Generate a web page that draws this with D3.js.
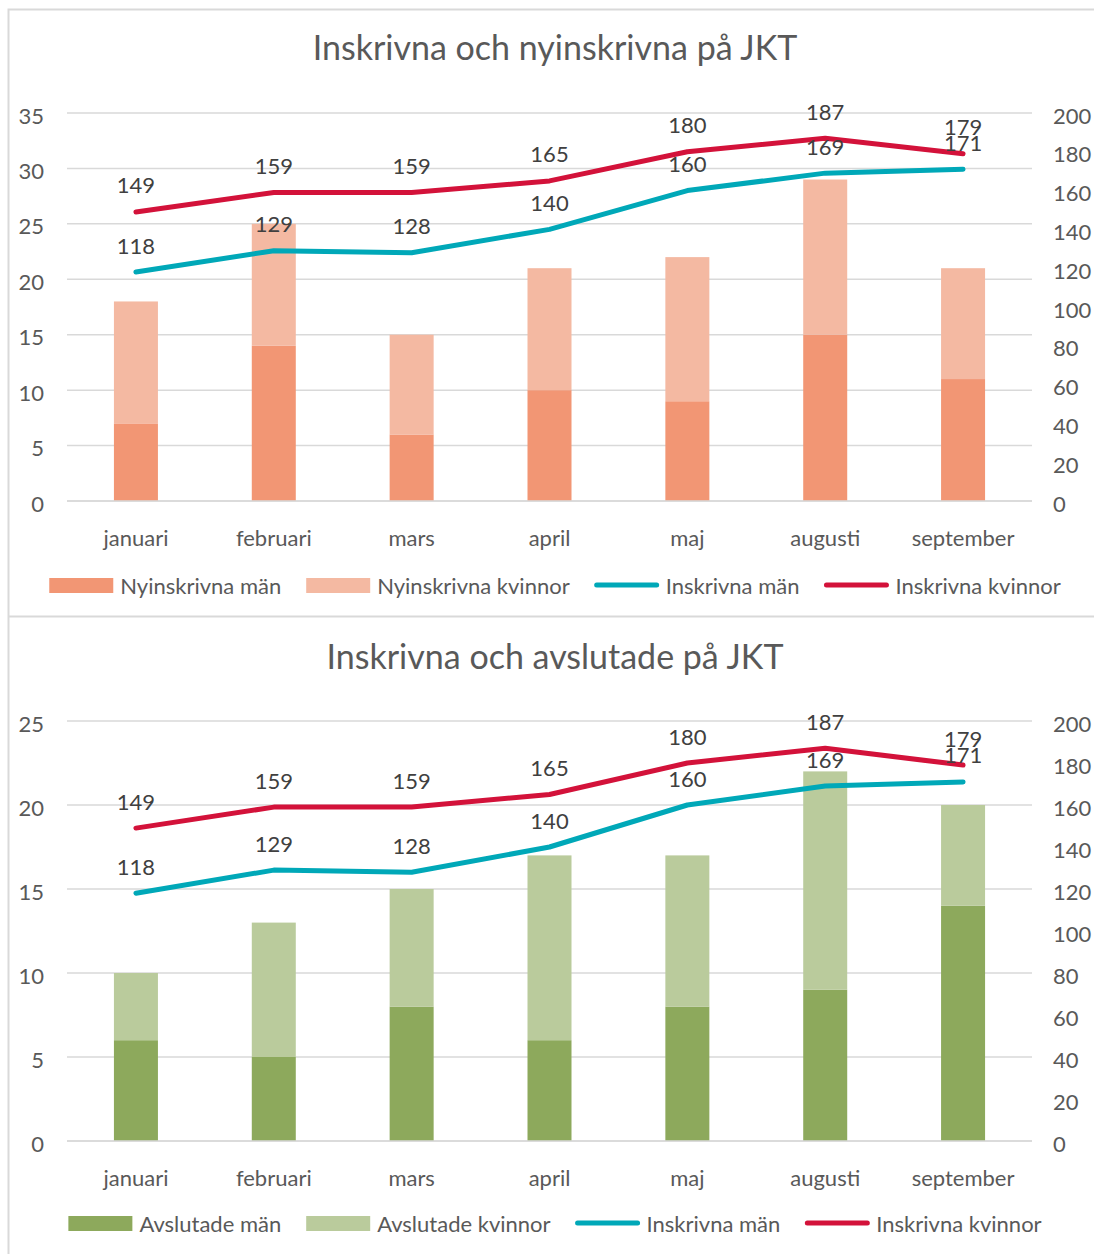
<!DOCTYPE html>
<html>
<head>
<meta charset="utf-8">
<script src="https://cdn.jsdelivr.net/npm/d3@7"></script>
<style>
  body { margin: 0; background: #fff; }
  svg text { font-family: Lato, "Open Sans", sans-serif; }
</style>
</head>
<body>
<div id="chart"></div>
<script>
const months = ['januari', 'februari', 'mars', 'april', 'maj', 'augusti', 'september'];

// inskrivna (right axis, both charts)
const inskrivnaMan = [118, 129, 128, 140, 160, 169, 171];
const inskrivnaKvinnor = [149, 159, 159, 165, 180, 187, 179];

// top chart bars
const nyinskrivnaMan = [7, 14, 6, 10, 9, 15, 11];
const nyinskrivnaKvinnor = [11, 11, 9, 11, 13, 14, 10];
const leftTicksTop = [0, 5, 10, 15, 20, 25, 30, 35];

// bottom chart bars
const avslutadeMan = [6, 5, 8, 6, 8, 9, 14];
const avslutadeKvinnor = [4, 8, 7, 11, 9, 13, 6];
const leftTicksBottom = [0, 5, 10, 15, 20, 25];

const rightTicks = [0, 20, 40, 60, 80, 100, 120, 140, 160, 180, 200];

const width = 1094;
const height = 1254;
const grey = '#d9d9d9';
const textCol = '#595959';

let svg = d3.select('#chart')
  .append('svg')
  .attr('width', width)
  .attr('height', height);

// frames
svg.append('path')
  .attr('d', 'M1094,9.5 H8.5 V1254 M8.5,616.5 H1094')
  .attr('fill', 'none')
  .attr('stroke', grey)
  .attr('stroke-width', 2);

function drawChart(opt) {
  let g = svg.append('g');

  let x = d3.scaleBand().domain(months).range([67, 1032]).paddingInner(0).paddingOuter(0);
  let y = d3.scaleLinear().domain([0, opt.leftMax]).range([opt.y0, opt.y1]);
  let y2 = d3.scaleLinear().domain([0, 200]).range([opt.y0, opt.y1]);

  g.append('text')
    .attr('x', 555).attr('y', opt.titleY)
    .attr('text-anchor', 'middle')
    .attr('dominant-baseline', 'central')
    .attr('font-size', 34)
    .attr('fill', textCol)
    .text(opt.title);

  // gridlines
  g.selectAll('.grid')
    .data(opt.leftTicks)
    .enter().append('line')
    .attr('x1', 67).attr('x2', 1032)
    .attr('y1', (d) => y(d)).attr('y2', (d) => y(d))
    .attr('stroke', grey)
    .attr('stroke-width', 1.5);

  // left axis
  let leftAxis = g.append('g')
    .attr('transform', 'translate(44,3)')
    .call(d3.axisLeft(y).tickValues(opt.leftTicks).tickSize(0).tickPadding(0));
  // right axis
  let rightAxis = g.append('g')
    .attr('transform', 'translate(1053,3)')
    .call(d3.axisRight(y2).tickValues(rightTicks).tickSize(0).tickPadding(0));
  // category axis
  let bottomAxis = g.append('g')
    .attr('transform', 'translate(0,' + (opt.y0 + 38) + ')')
    .call(d3.axisBottom(x).tickSize(0).tickPadding(0));

  [leftAxis, rightAxis, bottomAxis].forEach((a) => {
    a.select('.domain').remove();
    a.selectAll('text')
      .attr('font-size', 22)
      .attr('fill', textCol)
      .attr('font-family', 'Lato, "Open Sans", sans-serif');
  });
  bottomAxis.selectAll('text').attr('dy', '0.32em').attr('y', 0);

  // stacked bars
  let barW = 44;
  let stackData = months.map((m, i) => ({month: m, a: opt.barsA[i], b: opt.barsB[i]}));
  let stack = d3.stack().keys(['a', 'b'])(stackData);
  let colors = {a: opt.colA, b: opt.colB};

  stack.forEach((layer) => {
    g.selectAll('.bar-' + layer.key)
      .data(layer)
      .enter().append('rect')
      .attr('x', (d) => x(d.data.month) + x.bandwidth() / 2 - barW / 2)
      .attr('width', barW)
      .attr('y', (d) => y(d[1]))
      .attr('height', (d) => y(d[0]) - y(d[1]))
      .attr('fill', colors[layer.key]);
  });

  // redraw zero line on top of bars
  g.append('line')
    .attr('x1', 67).attr('x2', 1032)
    .attr('y1', y(0)).attr('y2', y(0))
    .attr('stroke', grey).attr('stroke-width', 1.5);

  // lines
  let line = d3.line()
    .x((d, i) => x(months[i]) + x.bandwidth() / 2)
    .y((d) => y2(d));

  [[inskrivnaMan, '#00a8b8'], [inskrivnaKvinnor, '#d3123a']].forEach(([vals, col]) => {
    g.append('path')
      .datum(vals)
      .attr('d', line)
      .attr('fill', 'none')
      .attr('stroke', col)
      .attr('stroke-width', 5)
      .attr('stroke-linecap', 'round')
      .attr('stroke-linejoin', 'round');
  });

  [inskrivnaMan, inskrivnaKvinnor].forEach((vals) => {
    g.selectAll(null)
      .data(vals)
      .enter().append('text')
      .attr('x', (d, i) => x(months[i]) + x.bandwidth() / 2)
      .attr('y', (d) => y2(d) - 27)
      .attr('text-anchor', 'middle')
      .attr('dominant-baseline', 'central')
      .attr('font-size', 22)
      .attr('fill', '#404040')
      .text((d) => d);
  });

  // legend
  let items = [
    {label: opt.legendA, col: opt.colA, type: 'rect'},
    {label: opt.legendB, col: opt.colB, type: 'rect'},
    {label: 'Inskrivna män', col: '#00a8b8', type: 'line'},
    {label: 'Inskrivna kvinnor', col: '#d3123a', type: 'line'}
  ];
  let lg = g.append('g');
  let cx = 0;
  items.forEach((it) => {
    let ig = lg.append('g').attr('transform', 'translate(' + cx + ',0)');
    if (it.type == 'rect') {
      ig.append('rect').attr('x', 0).attr('y', -7).attr('width', 64).attr('height', 15).attr('fill', it.col);
    } else {
      ig.append('line').attr('x1', 2).attr('x2', 62).attr('y1', 0).attr('y2', 0)
        .attr('stroke', it.col).attr('stroke-width', 5).attr('stroke-linecap', 'round');
    }
    let t = ig.append('text')
      .attr('x', 71).attr('y', 0)
      .attr('dominant-baseline', 'central')
      .attr('font-size', 22)
      .attr('fill', textCol)
      .text(it.label);
    cx += 71 + t.node().getComputedTextLength() + 25;
  });
  let total = cx - 25;
  lg.attr('transform', 'translate(' + (555 - total / 2) + ',' + opt.legendY + ')');
}

drawChart({
  title: 'Inskrivna och nyinskrivna på JKT',
  titleY: 46,
  y0: 501, y1: 113,
  leftMax: 35,
  leftTicks: leftTicksTop,
  barsA: nyinskrivnaMan,
  barsB: nyinskrivnaKvinnor,
  colA: '#f29674', colB: '#f4b9a2',
  legendA: 'Nyinskrivna män', legendB: 'Nyinskrivna kvinnor',
  legendY: 585
});

drawChart({
  title: 'Inskrivna och avslutade på JKT',
  titleY: 655,
  y0: 1141, y1: 721,
  leftMax: 25,
  leftTicks: leftTicksBottom,
  barsA: avslutadeMan,
  barsB: avslutadeKvinnor,
  colA: '#8da95c', colB: '#bacb9c',
  legendA: 'Avslutade män', legendB: 'Avslutade kvinnor',
  legendY: 1223
});
</script>
</body>
</html>
